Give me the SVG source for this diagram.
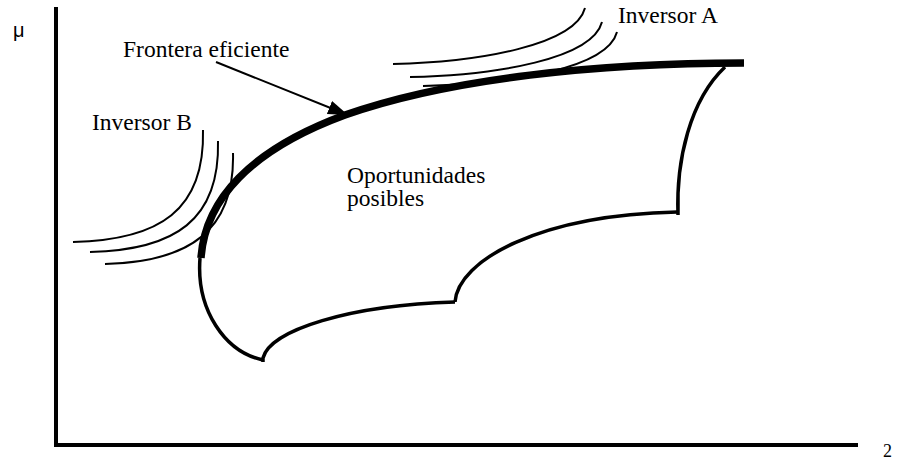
<svg xmlns="http://www.w3.org/2000/svg" width="905" height="461" viewBox="0 0 905 461">
<style>
text.t{font-family:"Liberation Serif","Times New Roman","DejaVu Serif",serif;font-size:23.5px;fill:#000}
.thin{fill:none;stroke:#000;stroke-width:2}
.bd{fill:none;stroke:#000;stroke-width:3.5;stroke-linejoin:miter}
</style>
<defs>
<marker id="ah" markerUnits="userSpaceOnUse" markerWidth="22" markerHeight="16" refX="20" refY="7" orient="auto">
<path d="M0,0 L20,7 L0,14 z" fill="#000"/>
</marker>
</defs>
<rect width="905" height="461" fill="#fff"/>
<g id="axes">
<line x1="56" y1="7" x2="56" y2="447" stroke="#000" stroke-width="4"/>
<line x1="54" y1="445" x2="858" y2="445" stroke="#000" stroke-width="4"/>
<text x="13" y="37" font-family="Liberation Sans, Arial, sans-serif" font-size="20">μ</text>
<text x="883" y="457" font-family="Liberation Serif, Times New Roman, serif" font-size="18">2</text>
</g>
<g id="oportunidades">
<path class="bd" d="M200,258 C196,310 225,352 263,360"/>
<path class="bd" d="M263,362 L263,358 C270,330 350,305 455,302"/>
<path class="bd" d="M455,302 C458,260 540,215 677,212"/>
<path class="bd" d="M678,215 C676,160 690,100 725,67"/>
<text class="t" font-family="Liberation Serif, Times New Roman, serif" x="347" y="183">Oportunidades</text>
<text class="t" font-family="Liberation Serif, Times New Roman, serif" x="347" y="206">posibles</text>
</g>
<g id="frontera">
<path d="M201,258 C205,200 250,150 345,115 C450,78 600,63 744,63" fill="none" stroke="#000" stroke-width="7.5"/>
<text class="t" font-family="Liberation Serif, Times New Roman, serif" x="123" y="57">Frontera eficiente</text>
</g>
<g id="inversorA">
<path class="thin" d="M393,64 C480,62 575,45 585,8"/>
<path class="thin" d="M410,77 C497,75 592,59 602,22"/>
<path class="thin" d="M423,86 C510,84 607,69 617,32"/>
<text class="t" font-family="Liberation Serif, Times New Roman, serif" x="618" y="23">Inversor A</text>
</g>
<g id="inversorB">
<path class="thin" d="M203,130 C205,210 160,240 73,242"/>
<path class="thin" d="M218,141 C220,220 175,250 90,252"/>
<path class="thin" d="M233,153 C235,230 190,262 105,264"/>
<text class="t" font-family="Liberation Serif, Times New Roman, serif" x="92" y="130">Inversor B</text>
</g>
<g id="connectors">
<line x1="216" y1="62" x2="348" y2="115" stroke="#000" stroke-width="2" marker-end="url(#ah)"/>
</g>
</svg>
